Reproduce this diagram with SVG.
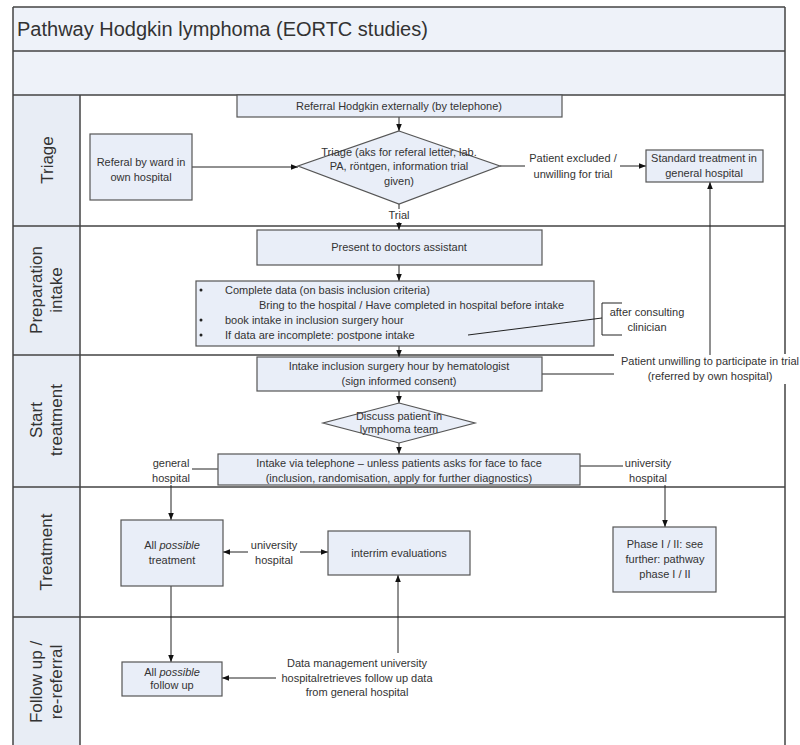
<svg xmlns="http://www.w3.org/2000/svg" width="800" height="745" viewBox="0 0 800 745">
<defs>
  <marker id="arr" viewBox="0 0 10 10" refX="10" refY="5" markerWidth="7" markerHeight="7" markerUnits="userSpaceOnUse" orient="auto">
    <path d="M0,1 L10,5 L0,9 z" fill="#111"/>
  </marker>
</defs>
<style>
  .t{font-family:"Liberation Sans",Arial,sans-serif;font-size:11px;fill:#333;text-anchor:middle}
  .tl{font-family:"Liberation Sans",Arial,sans-serif;font-size:11px;fill:#333}
  .box{fill:#e9eef8;stroke:#555;stroke-width:1.2}
  .band{fill:#eef2f9}
  .lanecol{fill:#e8edf5}
  .ln{stroke:#444;stroke-width:1.5;fill:none}
  .c{stroke:#222;stroke-width:1;fill:none}
  .ca{stroke:#222;stroke-width:1;fill:none;marker-end:url(#arr)}
  .lab{font-family:"Liberation Sans",Arial,sans-serif;font-size:17px;fill:#333;text-anchor:middle}
  .bg{fill:#fff}
</style>

<rect x="0" y="0" width="800" height="745" fill="#fff"/>

<!-- swimlane frame -->
<g id="frame">
  <rect class="band" x="13" y="7" width="772" height="44"/>
  <rect class="band" x="13" y="51" width="772" height="44"/>
  <rect class="lanecol" x="13" y="95" width="67" height="650"/>
  <text x="17" y="36" font-family="Liberation Sans, Arial, sans-serif" font-size="20" fill="#333">Pathway Hodgkin lymphoma (EORTC studies)</text>
  <path class="ln" d="M13,7 H785 M13,51 H785 M13,95 H785 M13,226 H785 M13,355 H785 M13,487 H785 M13,617 H785 M13,7 V745 M785,7 V745 M80,95 V745"/>
  <text class="lab" transform="translate(53,160) rotate(-90)">Triage</text>
  <text class="lab" transform="translate(42,290) rotate(-90)">Preparation</text>
  <text class="lab" transform="translate(62,290) rotate(-90)">intake</text>
  <text class="lab" transform="translate(42,420) rotate(-90)">Start</text>
  <text class="lab" transform="translate(62,420) rotate(-90)">treatment</text>
  <text class="lab" transform="translate(52,552) rotate(-90)">Treatment</text>
  <text class="lab" transform="translate(42,682) rotate(-90)">Follow up /</text>
  <text class="lab" transform="translate(62,682) rotate(-90)">re-referral</text>
</g>

<!-- connectors -->
<g id="connectors">
  <path class="ca" d="M399,117 V131"/>
  <path class="ca" d="M192,167 H298"/>
  <path class="c" d="M500,166 H525"/>
  <path class="ca" d="M620,166 H646"/>
  <path class="ca" d="M399,204 V230"/>
  <rect class="bg" x="386" y="209" width="26" height="13"/>
  <text class="t" x="399" y="219">Trial</text>
  <text class="t" x="573" y="162">Patient excluded /</text>
  <text class="t" x="573" y="178">unwilling for trial</text>
  <path class="ca" d="M399,265 V281"/>
  <path class="ca" d="M399,346 V357"/>
  <path class="ca" d="M399,391 V403"/>
  <path class="ca" d="M399,443 V454"/>
  <path class="c" d="M542,374 H616"/>
  <rect class="bg" x="614" y="354" width="190" height="30"/>
  <text class="t" x="710" y="365">Patient unwilling to participate in trial</text>
  <text class="t" x="710" y="380">(referred by own hospital)</text>
  <path class="ca" d="M710,355 V182"/>
  <path class="c" d="M218,469 H192"/>
  <text class="t" x="171" y="467">general</text>
  <text class="t" x="171" y="482">hospital</text>
  <path class="ca" d="M171,485 V520"/>
  <path class="c" d="M580,466 H623"/>
  <text class="t" x="648" y="467">university</text>
  <text class="t" x="648" y="482">hospital</text>
  <path class="ca" d="M665,485 V527"/>
  <path class="ca" d="M248,552 H223"/>
  <path class="ca" d="M300,552 H328"/>
  <text class="t" x="274" y="549">university</text>
  <text class="t" x="274" y="564">hospital</text>
  <path class="ca" d="M171,586 V662"/>
  <path class="ca" d="M276,678 H222"/>
  <path class="ca" d="M398,653 V575"/>
  <text class="t" x="357" y="667">Data management university</text>
  <text class="t" x="357" y="682">hospitalretrieves follow up data</text>
  <text class="t" x="357" y="696">from general hospital</text>
</g>

<g id="referral-external">
  <rect class="box" x="237" y="95" width="325" height="22"/>
  <text class="t" x="399" y="110">Referral Hodgkin externally (by telephone)</text>
</g>

<g id="referral-ward">
  <rect class="box" x="90" y="134" width="102" height="66"/>
  <text class="t" x="141" y="166">Referal by ward in</text>
  <text class="t" x="141" y="181">own hospital</text>
</g>

<g id="triage">
  <polygon class="box" points="399,131 500,166 399,204 298,166"/>
  <text class="t" x="399" y="156">Triage (aks for referal letter, lab.</text>
  <text class="t" x="399" y="170">PA, röntgen, information trial</text>
  <text class="t" x="399" y="185">given)</text>
</g>

<g id="standard-treatment">
  <rect class="box" x="646" y="150" width="117" height="32"/>
  <text class="t" x="704" y="162">Standard treatment in</text>
  <text class="t" x="704" y="177">general hospital</text>
</g>

<g id="present-assistant">
  <rect class="box" x="257" y="230" width="285" height="35"/>
  <text class="t" x="399" y="251">Present to doctors assistant</text>
</g>

<g id="complete-data">
  <rect class="box" x="196" y="281" width="398" height="65"/>
  <circle cx="201" cy="290" r="1.5" fill="#222"/>
  <circle cx="201" cy="320" r="1.5" fill="#222"/>
  <circle cx="201" cy="335" r="1.5" fill="#222"/>
  <text class="tl" x="225" y="294">Complete data (on basis inclusion criteria)</text>
  <text class="tl" x="259" y="309">Bring to the hospital / Have completed in hospital before intake</text>
  <text class="tl" x="225" y="324">book intake in inclusion surgery hour</text>
  <text class="tl" x="225" y="339">If data are incomplete: postpone intake</text>
</g>

<g id="intake-hematologist">
  <rect class="box" x="257" y="357" width="285" height="34"/>
  <text class="t" x="399" y="370">Intake inclusion surgery hour by hematologist</text>
  <text class="t" x="399" y="385">(sign informed consent)</text>
</g>

<g id="lymphoma-team">
  <polygon class="box" points="399,403 475,423 399,443 323,423"/>
  <text class="t" x="399" y="420">Discuss patient in</text>
  <text class="t" x="399" y="433">lymphoma team</text>
</g>

<g id="intake-telephone">
  <rect class="box" x="218" y="454" width="362" height="31"/>
  <text class="t" x="399" y="467">Intake via telephone – unless patients asks for face to face</text>
  <text class="t" x="399" y="482">(inclusion, randomisation, apply for further diagnostics)</text>
</g>

<g id="all-treatment">
  <rect class="box" x="121" y="520" width="102" height="66"/>
  <text class="t" x="172" y="549">All <tspan font-style="italic">possible</tspan></text>
  <text class="t" x="172" y="564">treatment</text>
</g>

<g id="interim-evaluations">
  <rect class="box" x="328" y="531" width="142" height="44"/>
  <text class="t" x="399" y="557">interrim evaluations</text>
</g>

<g id="phase-1-2">
  <rect class="box" x="613" y="527" width="103" height="65"/>
  <text class="t" x="665" y="548">Phase I / II: see</text>
  <text class="t" x="665" y="563">further: pathway</text>
  <text class="t" x="665" y="578">phase I / II</text>
</g>

<g id="all-follow-up">
  <rect class="box" x="122" y="662" width="100" height="34"/>
  <text class="t" x="172" y="676">All <tspan font-style="italic">possible</tspan></text>
  <text class="t" x="172" y="689">follow up</text>
</g>

<!-- annotation callout attached to the last bullet, drawn over the box -->
<g id="annotation">
  <path class="c" d="M468,335 L602,318"/>
  <path class="c" d="M622,303 H602 V335 H622"/>
  <text class="t" x="647" y="316">after consulting</text>
  <text class="t" x="647" y="331">clinician</text>
</g>
</svg>
